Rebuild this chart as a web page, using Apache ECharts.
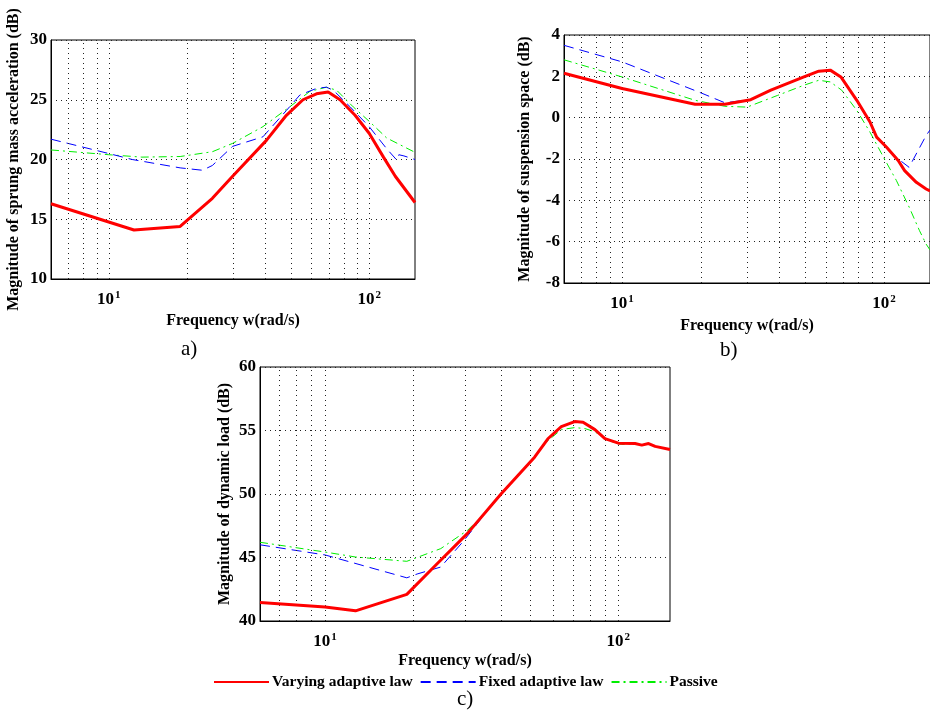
<!DOCTYPE html>
<html>
<head>
<meta charset="utf-8">
<script src="https://cdn.jsdelivr.net/npm/echarts@6/dist/echarts.min.js"></script>
<style>
  html, body { margin: 0; padding: 0; background: #fff; }
  #main { width: 930px; height: 712px; }
</style>
</head>
<body>
<div id="main"></div>
<script>
// Frequency grid lines (rad/s), log scale
const xGrid = [7, 8, 9, 10, 20, 30, 40, 50, 60, 70, 80, 90, 100];

// a) sprung mass acceleration (dB)
const accVarying = [[6, 16.3], [12.5, 14.1], [18.8, 14.4], [25, 16.75], [29.9, 18.6], [40.3, 21.6], [48.1, 23.7], [55.7, 25.0], [62.8, 25.5], [69.6, 25.65], [77.3, 25.0], [88.3, 23.7], [100, 22.2], [113.5, 20.2], [126, 18.6], [150, 16.4]];
const accFixed = [[6, 21.7], [10, 20.5], [12.3, 20.0], [18.8, 19.3], [22.9, 19.1], [25, 19.5], [29.9, 21.1], [39.1, 21.9], [48.1, 24.1], [54.2, 25.4], [62.8, 25.95], [68.5, 26.05], [72.8, 25.8], [84.6, 24.4], [100, 22.75], [116.8, 20.9], [127.7, 19.95], [130, 20.4], [136, 20.3], [150, 20.0]];
const accPassive = [[6, 20.8], [10, 20.4], [13.4, 20.2], [18.8, 20.25], [25, 20.65], [29.9, 21.35], [39.1, 22.75], [49.5, 24.4], [59.2, 25.7], [68.5, 26.05], [75, 25.8], [86.9, 24.4], [100, 23.2], [116.8, 21.8], [150, 20.6]];

// b) suspension space (dB)
const susVarying = [[6, 2.15], [10, 1.41], [19, 0.65], [24.7, 0.65], [31, 0.87], [37, 1.33], [49.5, 1.97], [56.4, 2.25], [62.4, 2.3], [68.5, 1.97], [78.8, 0.84], [88.5, -0.21], [93.8, -0.94], [102.4, -1.43], [113.4, -2.07], [120, -2.56], [133, -3.13], [145, -3.45], [150, -3.55]];
const susFixed = [[6, 3.5], [10, 2.7], [20, 1.2], [24.7, 0.72], [31, 0.88], [37, 1.34], [49.5, 1.98], [56.4, 2.26], [62.4, 2.3], [68.5, 1.98], [78.8, 0.85], [88.5, -0.2], [93.8, -0.93], [102.4, -1.45], [113.4, -2.0], [124.8, -2.4], [145, -0.86], [150, -0.6]];
const susPassive = [[6, 2.8], [10, 1.97], [19, 0.84], [24.7, 0.55], [30, 0.51], [39.3, 1.08], [49.5, 1.57], [56.4, 1.81], [62.4, 1.73], [69, 1.33], [78.8, 0.35], [88.5, -0.7], [99.6, -1.91], [111.6, -3.04], [125, -4.34], [136.8, -5.47], [145, -6.12], [150, -6.4]];

// c) dynamic load (dB)
const loadVarying = [[6, 41.45], [10, 41.1], [12.7, 40.8], [19, 42.1], [23.5, 44.25], [30.6, 46.9], [39.8, 50.0], [51.8, 52.9], [57.5, 54.35], [63.9, 55.3], [71, 55.7], [75.8, 55.65], [83.2, 55.07], [90, 54.36], [100, 54.0], [114, 53.97], [120.2, 53.85], [126.8, 53.97], [133.5, 53.75], [150, 53.5]];
const loadFixed = [[6, 46.0], [10, 45.2], [19, 43.4], [20.6, 43.7], [24.8, 44.25], [29.8, 46.35], [35.8, 48.7], [39.8, 50.0], [51.8, 52.9], [57.5, 54.35], [63.9, 55.3], [71, 55.7], [75.8, 55.65], [83.2, 55.07], [90, 54.36], [100, 54.0], [114, 53.97], [120.2, 53.85], [126.8, 53.97], [133.5, 53.75], [150, 53.5]];
const loadPassive = [[6, 46.2], [10, 45.43], [12.7, 45.04], [19, 44.7], [24.8, 45.7], [30.6, 47.14], [35.8, 48.7], [39.8, 50.0], [51.8, 52.9], [57.5, 54.2], [63.9, 55.07], [71, 55.23], [77, 55.15], [83.2, 54.9], [92.4, 54.2], [102.6, 53.9], [114, 53.95], [120.2, 53.85], [126.8, 53.95], [133.5, 53.75], [150, 53.5]];

const names = ['Varying adaptive law', 'Fixed adaptive law', 'Passive'];
const FONT = '"Liberation Serif", "Times New Roman", serif';

const grids = [
  { left: 51, top: 40, width: 364, height: 239 },
  { left: 564, top: 35, width: 370, height: 248 },
  { left: 260, top: 367, width: 410, height: 254 }
];

function isPow10(v) {
  const l = Math.log10(v);
  return Math.abs(l - Math.round(l)) < 1e-6;
}

function xAxisFor(i, gap) {
  return {
    type: 'log', logBase: 10, gridIndex: i, min: 6, max: 150,
    name: 'Frequency w(rad/s)', nameLocation: 'middle', nameGap: gap,
    nameTextStyle: { fontFamily: FONT, fontWeight: 'bold', fontSize: 16, color: '#000' },
    axisLine: { onZero: false, lineStyle: { color: '#000', width: 1 } },
    axisTick: { show: false },
    splitLine: { show: false },
    axisLabel: {
      margin: 11,
      showMinLabel: false, showMaxLabel: false,
      formatter: function (v) {
        if (!isPow10(v)) return '';
        return '{b|10}{s|' + Math.round(Math.log10(v)) + '}';
      },
      rich: {
        b: { fontFamily: FONT, fontWeight: 'bold', fontSize: 17, color: '#000' },
        s: { fontFamily: FONT, fontWeight: 'bold', fontSize: 11, color: '#000', padding: [0, 0, 9, 1] }
      }
    }
  };
}

function yAxisFor(i, name, min, max, interval, gap) {
  return {
    type: 'value', gridIndex: i, min: min, max: max, interval: interval,
    name: name, nameLocation: 'middle', nameGap: gap,
    nameTextStyle: { fontFamily: FONT, fontWeight: 'bold', fontSize: 16, color: '#000' },
    axisLine: { show: true, onZero: false, lineStyle: { color: '#000', width: 1 } },
    axisTick: { show: false },
    axisLabel: { fontFamily: FONT, fontWeight: 'bold', fontSize: 17, color: '#000', margin: 4 },
    splitLine: { show: true, lineStyle: { color: '#222', type: [1, 4], width: 1 } }
  };
}

function gridLines(i) {
  return {
    type: 'line', xAxisIndex: i, yAxisIndex: i, data: [], silent: true,
    markLine: {
      silent: true, symbol: 'none', animation: false,
      label: { show: false },
      lineStyle: { color: '#222', type: [1, 4], width: 1 },
      data: xGrid.map(v => ({ xAxis: v }))
    }
  };
}

function curves(i, sets) {
  const styles = [
    { color: '#ff0000', width: 3, type: 'solid' },
    { color: '#0000ff', width: 1, type: [10, 6] },
    { color: '#00ee00', width: 1, type: [8, 4, 2, 4] }
  ];
  const order = [2, 1, 0];
  return order.map(k => ({
    name: names[k], type: 'line', xAxisIndex: i, yAxisIndex: i,
    data: sets[k], showSymbol: false, symbol: 'none', smooth: false,
    color: styles[k].color, z: 3 + (2 - k),
    lineStyle: styles[k], animation: false
  }));
}

const chart = echarts.init(document.getElementById('main'), null, { renderer: 'canvas' });

chart.setOption({
  backgroundColor: '#fff',
  animation: false,
  grid: grids.map(g => Object.assign({ show: true, borderColor: '#000', borderWidth: 1, backgroundColor: 'transparent' }, g)),
  xAxis: [xAxisFor(0, 34), xAxisFor(1, 35), xAxisFor(2, 32)],
  yAxis: [
    yAxisFor(0, 'Magnitude of sprung mass acceleration (dB)', 10, 30, 5, 29),
    yAxisFor(1, 'Magnitude of suspension space (dB)', -8, 4, 2, 31),
    yAxisFor(2, 'Magnitude of dynamic load (dB)', 40, 60, 5, 27)
  ],
  legend: {
    left: 208, top: 669, itemWidth: 55, itemHeight: 14, itemGap: 7,
    data: names,
    itemStyle: { opacity: 0 },
    textStyle: { fontFamily: FONT, fontWeight: 'bold', fontSize: 15.5, color: '#000', padding: [0, 0, 0, -2] }
  },
  graphic: [
    { type: 'text', left: 181, top: 339, style: { text: 'a)', font: '21px ' + FONT, fill: '#000' } },
    { type: 'text', left: 720, top: 340, style: { text: 'b)', font: '21px ' + FONT, fill: '#000' } },
    { type: 'text', left: 457, top: 689, style: { text: 'c)', font: '21px ' + FONT, fill: '#000' } }
  ],
  series: [].concat(
    gridLines(0), curves(0, [accVarying, accFixed, accPassive]),
    gridLines(1), curves(1, [susVarying, susFixed, susPassive]),
    gridLines(2), curves(2, [loadVarying, loadFixed, loadPassive])
  )
});
</script>
</body>
</html>
